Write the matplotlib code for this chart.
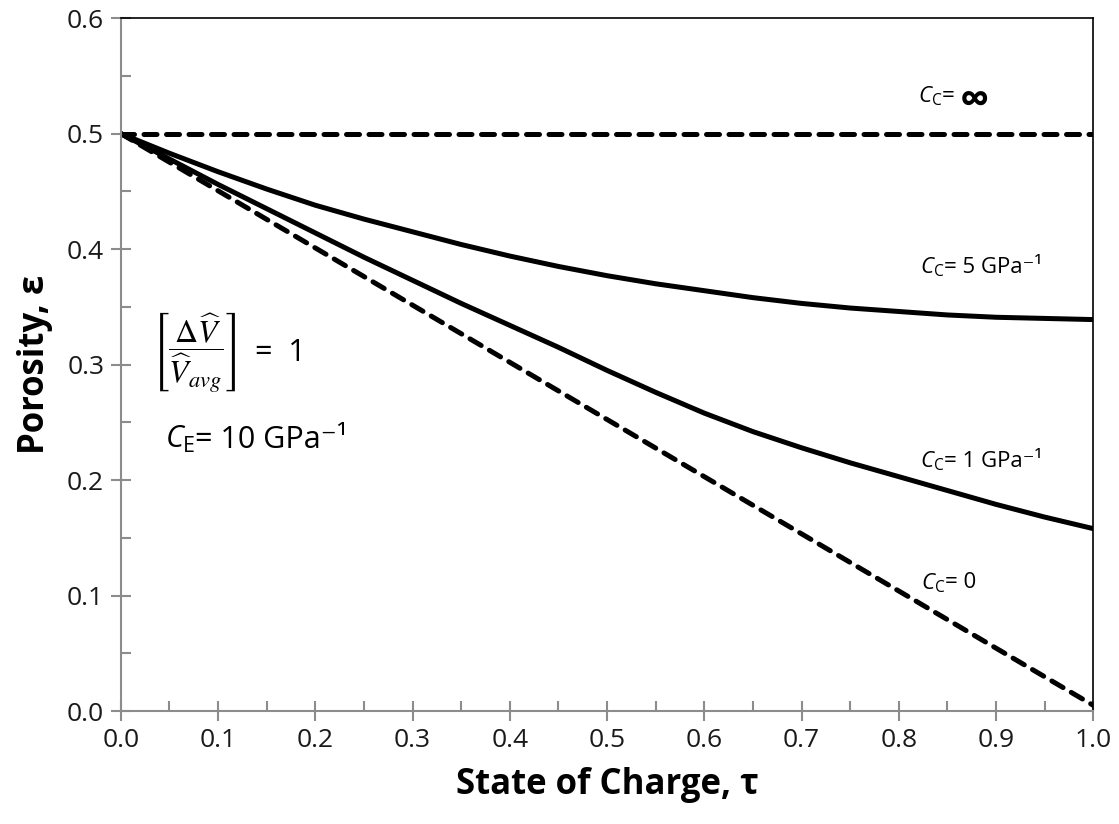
import matplotlib.pyplot as plt

plt.rcParams['font.family'] = ['Open Sans', 'DejaVu Sans']
plt.rcParams['mathtext.fontset'] = 'custom'
plt.rcParams['mathtext.rm'] = 'Open Sans'
plt.rcParams['mathtext.it'] = 'Open Sans:italic'
plt.rcParams['mathtext.bf'] = 'Open Sans:bold'

# state of charge grid
tau = [0.0, 0.05, 0.1, 0.15, 0.2, 0.25, 0.3, 0.35, 0.4, 0.45, 0.5,
       0.55, 0.6, 0.65, 0.7, 0.75, 0.8, 0.85, 0.9, 0.95, 1.0]

# porosity for each cathode compliance
eps_c5 = [0.500, 0.483, 0.467, 0.452, 0.438, 0.426, 0.415, 0.404, 0.394, 0.385, 0.377,
          0.370, 0.364, 0.358, 0.353, 0.349, 0.346, 0.343, 0.341, 0.340, 0.339]
eps_c1 = [0.500, 0.478, 0.456, 0.435, 0.414, 0.393, 0.373, 0.353, 0.334, 0.315, 0.295,
          0.276, 0.258, 0.242, 0.228, 0.215, 0.203, 0.191, 0.179, 0.168, 0.158]
tau_lin = [0.0, 1.0]
eps_c0 = [0.500, 0.005]
eps_inf = [0.500, 0.500]

fig = plt.figure(figsize=(11.19, 8.24), dpi=100)
ax = fig.add_axes([0.108, 0.137, 0.869, 0.841])

lw = 3.6
dash = (2.6, 1.9)
ax.plot(tau_lin, eps_inf, color='black', lw=lw, ls=(0, dash), dash_capstyle='round')
ax.plot(tau, eps_c5, color='black', lw=lw)
ax.plot(tau, eps_c1, color='black', lw=lw)
ax.plot(tau_lin, eps_c0, color='black', lw=lw, ls=(0, dash), dash_capstyle='round')

ax.set_xlim(0, 1)
ax.set_ylim(0, 0.6)
ax.set_xticks([i / 10 for i in range(11)])
ax.set_xticks([0.05 + i / 10 for i in range(10)], minor=True)
ax.set_yticks([i / 10 for i in range(7)])
ax.set_yticks([0.05 + i / 10 for i in range(6)], minor=True)
ax.xaxis.set_major_formatter(plt.FormatStrFormatter('%.1f'))
ax.yaxis.set_major_formatter(plt.FormatStrFormatter('%.1f'))

for side in ['left', 'bottom']:
    ax.spines[side].set_color('#8c8c8c')
    ax.spines[side].set_linewidth(1.5)
for side in ['top', 'right']:
    ax.spines[side].set_color('black')
    ax.spines[side].set_linewidth(1.2)

ax.tick_params(which='major', direction='inout', length=14, width=1.5,
               color='#8c8c8c', labelsize=19, labelcolor='#1a1a1a', pad=5)
ax.tick_params(which='minor', direction='in', length=7, width=1.5, color='#8c8c8c')

ax.set_xlabel('State of Charge, τ', fontsize=25, fontweight='bold', labelpad=10)
ax.set_ylabel('Porosity, ε', fontsize=25, fontweight='bold', labelpad=10)


def label(x, y, sub, rest, size, gap, rest_size=None):
    # italic C with subscript, then the plain-text remainder just after it
    ax.text(x, y, r'$C_{\rm %s}$' % sub, fontsize=size, va='center', ha='left')
    ax.annotate(rest, xy=(x, y), xytext=(gap, 0), textcoords='offset points',
                fontsize=rest_size or size, va='center', ha='left')


label(0.82, 0.532, 'C', '=', 16, 17)
ax.annotate('∞', xy=(0.82, 0.532), xytext=(30, -4), textcoords='offset points',
            fontsize=30, fontweight='bold', va='center', ha='left')
label(0.822, 0.384, 'C', '= 5 GPa⁻¹', 16, 17)
label(0.822, 0.216, 'C', '= 1 GPa⁻¹', 16, 17)
label(0.823, 0.111, 'C', '= 0', 16, 17)

ax.text(0.032, 0.31, r'$\left[\dfrac{\Delta\widehat{V}}{\widehat{V}_{avg}}\right]$',
        fontsize=23, va='center', ha='left', math_fontfamily='stix')
ax.text(0.138, 0.31, '=  1', fontsize=22, va='center', ha='left')
label(0.045, 0.235, 'E', '= 10 GPa⁻¹', 22, 22)

fig.savefig('out.png', dpi=100)
